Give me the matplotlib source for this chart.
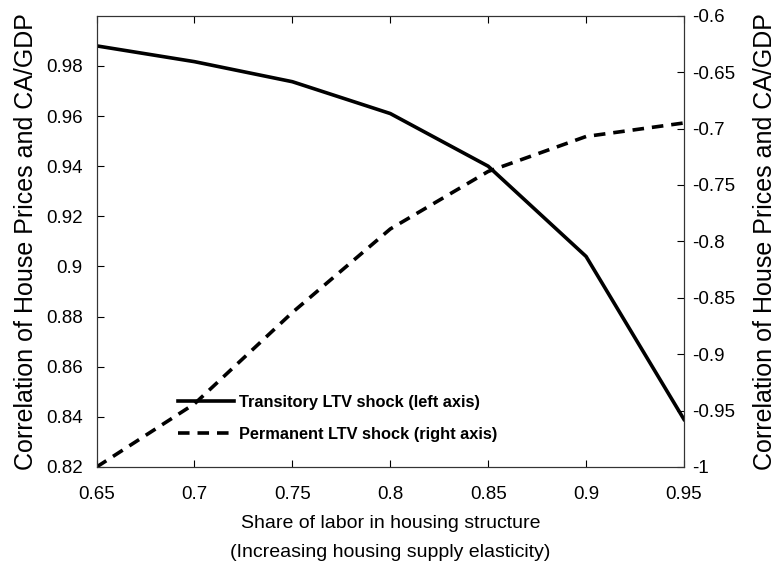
import matplotlib
matplotlib.use("Agg")
import matplotlib.pyplot as plt
from matplotlib import font_manager

plt.rcParams['font.family'] = ['Liberation Sans', 'DejaVu Sans']

# 数据
labor_share = [0.65, 0.70, 0.75, 0.80, 0.85, 0.90, 0.95]
transitory = [0.988, 0.9817, 0.9737, 0.961, 0.940, 0.904, 0.839]
permanent = [-1.0, -0.944, -0.863, -0.789, -0.738, -0.707, -0.695]

left_ticks = [0.82, 0.84, 0.86, 0.88, 0.90, 0.92, 0.94, 0.96, 0.98]
left_labels = ['0.82', '0.84', '0.86', '0.88', '0.9', '0.92', '0.94', '0.96', '0.98']
right_ticks = [-1.0, -0.95, -0.9, -0.85, -0.8, -0.75, -0.7, -0.65, -0.6]
right_labels = ['-1', '-0.95', '-0.9', '-0.85', '-0.8', '-0.75', '-0.7', '-0.65', '-0.6']
x_ticks = [0.65, 0.70, 0.75, 0.80, 0.85, 0.90, 0.95]
x_labels = ['0.65', '0.7', '0.75', '0.8', '0.85', '0.9', '0.95']

ylabel = 'Correlation of House Prices and CA/GDP'

# 图例用窄体粗字（没有就退回普通字体并缩小）
try:
    font_manager.findfont('Liberation Sans Narrow', fallback_to_default=False)
    leg_font = {'family': ['Liberation Sans Narrow', 'Liberation Sans'], 'weight': 'bold', 'size': 14.5}
except Exception:
    leg_font = {'family': ['Liberation Sans', 'DejaVu Sans'], 'weight': 'bold', 'size': 11.8}

fig = plt.figure(figsize=(7.79, 5.64), dpi=100)
ax = fig.add_axes([0.124, 0.172, 0.754, 0.8])
ax2 = ax.twinx()

l1, = ax.plot(labor_share, transitory, color='black', lw=2.6, label='Transitory LTV shock (left axis)')
l2, = ax2.plot(labor_share, permanent, color='black', lw=2.6, ls=(0, (3.2, 2.2)),
               label='Permanent LTV shock (right axis)')

ax.set_xlim(0.65, 0.95)
ax.set_ylim(0.82, 1.0)
ax2.set_ylim(-1.0, -0.6)

ax.set_xticks(x_ticks)
ax.set_xticklabels(x_labels)
ax.set_yticks(left_ticks)
ax.set_yticklabels(left_labels)
ax2.set_yticks(right_ticks)
ax2.set_yticklabels(right_labels)

ax.tick_params(axis='x', direction='in', top=True, length=5, width=0.8, labelsize=13.5, pad=13.5)
ax.tick_params(axis='y', direction='in', length=5, width=0.8, labelsize=13.5, pad=10)
ax2.tick_params(axis='y', direction='in', length=5, width=0.8, labelsize=13.5, pad=6)

for a in (ax, ax2):
    for s in a.spines.values():
        s.set_color('#333333')
        s.set_linewidth(0.8)

ax.set_ylabel(ylabel, fontsize=18, labelpad=6)
ax2.set_ylabel(ylabel, fontsize=18, labelpad=13)
ax.set_xlabel('Share of labor in housing structure\n(Increasing housing supply elasticity)',
              fontsize=14, labelpad=9, linespacing=1.9)

leg = ax.legend(handles=[l1, l2], loc='center left', bbox_to_anchor=(0.114, 0.108),
                frameon=False, handlelength=3.4, handletextpad=0.3, labelspacing=1.05,
                prop=leg_font)

fig.savefig('out.png', dpi=100)
